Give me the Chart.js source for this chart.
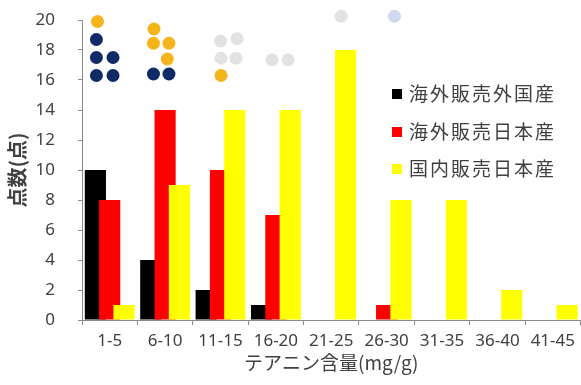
<!DOCTYPE html>
<html>
<head>
<meta charset="utf-8">
<script src="https://cdn.jsdelivr.net/npm/chart.js@4/dist/chart.umd.min.js"></script>
<style>
  body { margin: 0; background: #fff; }
  #chart { display: block; }
</style>
</head>
<body>
<canvas id="chart" width="581" height="385"></canvas>
<script>
// テアニン含量の分布
const categories = ['1-5', '6-10', '11-15', '16-20', '21-25', '26-30', '31-35', '36-40', '41-45'];
const overseasForeign = [10, 4, 2, 1, 0, 0, 0, 0, 0];
const overseasJapan = [8, 14, 10, 7, 0, 1, 0, 0, 0];
const domesticJapan = [1, 9, 14, 14, 18, 8, 8, 2, 1];
const seriesNames = ['海外販売外国産', '海外販売日本産', '国内販売日本産'];

// markers above the bars: category index, shift within the category, height
const navyDots = [
    { cat: 0, dx: -0.24, y: 16.3 }, { cat: 0, dx: 0.06, y: 16.3 },
    { cat: 0, dx: -0.24, y: 17.5 }, { cat: 0, dx: 0.06, y: 17.5 },
    { cat: 0, dx: -0.24, y: 18.7 },
    { cat: 1, dx: -0.21, y: 16.4 }, { cat: 1, dx: 0.07, y: 16.4 }
];
const orangeDots = [
    { cat: 0, dx: -0.22, y: 19.9 },
    { cat: 1, dx: 0.04, y: 17.4 },
    { cat: 1, dx: -0.21, y: 18.45 }, { cat: 1, dx: 0.07, y: 18.45 },
    { cat: 1, dx: -0.2, y: 19.4 },
    { cat: 2, dx: 0.01, y: 16.3 }
];
const grayDots = [
    { cat: 2, dx: 0.01, y: 17.45 }, { cat: 2, dx: 0.28, y: 17.45 },
    { cat: 2, dx: 0.0, y: 18.6 }, { cat: 2, dx: 0.3, y: 18.75 },
    { cat: 3, dx: -0.07, y: 17.35 }, { cat: 3, dx: 0.22, y: 17.35 },
    { cat: 4, dx: 0.18, y: 20.25 }
];
const blueDots = [
    { cat: 5, dx: 0.14, y: 20.25 }
];

const dotGroups = [
    { list: navyDots, color: '#0f2a66' },
    { list: orangeDots, color: '#f5b41c' },
    { list: grayDots, color: '#e2e2e2' },
    { list: blueDots, color: '#d0d8ee' }
];

const tickColor = '#404040';
const axisColor = '#8a8a8a';

// bars in index order (later bar overlaps the earlier one), then the dots
const drawInOrder = {
    id: 'drawInOrder',
    beforeDatasetsDraw(chart) {
        chart.data.datasets.forEach((ds, i) => {
            const meta = chart.getDatasetMeta(i);
            if (!meta.hidden) meta.controller.draw();
        });

        const { ctx, scales: { x, y } } = chart;
        ctx.save();
        dotGroups.forEach(g => {
            ctx.fillStyle = g.color;
            g.list.forEach(d => {
                ctx.beginPath();
                ctx.arc(x.getPixelForValue(d.cat + d.dx), y.getPixelForValue(d.y), 6.5, 0, Math.PI * 2);
                ctx.fill();
            });
        });
        ctx.restore();
        return false;
    }
};

// legend inside the plot area
const innerLegend = {
    id: 'innerLegend',
    afterDraw(chart) {
        const ctx = chart.ctx;
        ctx.save();
        ctx.font = '19px "Noto Sans CJK JP"';
        ctx.letterSpacing = '2px';
        ctx.textBaseline = 'middle';
        const rows = [94, 132, 169];
        chart.data.datasets.forEach((ds, i) => {
            ctx.fillStyle = ds.backgroundColor;
            ctx.fillRect(392, rows[i] - 5, 10, 10);
            ctx.fillStyle = tickColor;
            ctx.fillText(ds.label, 409, rows[i]);
        });
        ctx.restore();
    }
};

new Chart(document.getElementById('chart'), {
    type: 'bar',
    data: {
        labels: categories,
        datasets: [
            { label: seriesNames[0], data: overseasForeign, backgroundColor: '#000000' },
            { label: seriesNames[1], data: overseasJapan, backgroundColor: '#ff0000' },
            { label: seriesNames[2], data: domesticJapan, backgroundColor: '#ffff00' }
        ]
    },
    options: {
        responsive: false,
        animation: false,
        categoryPercentage: 0.775,
        barPercentage: 1.48,
        borderWidth: 0,
        layout: { padding: { top: 20, right: 0, bottom: 0, left: 0 } },
        plugins: {
            legend: { display: false },
            tooltip: { enabled: false }
        },
        scales: {
            x: {
                grid: { drawOnChartArea: false, drawTicks: true, tickLength: 5, color: axisColor },
                border: { color: axisColor },
                ticks: { color: tickColor, font: { family: 'Noto Sans', size: 17 }, padding: 6, maxRotation: 0, autoSkip: false },
                title: { display: true, text: 'テアニン含量(mg/g)', color: tickColor, font: { family: 'Noto Sans CJK JP', size: 19 }, padding: { top: 0, bottom: 11 } },
                afterFit(scale) { scale.height = 65; }
            },
            y: {
                min: 0,
                max: 20,
                ticks: { stepSize: 2, color: tickColor, font: { family: 'Noto Sans', size: 17 }, padding: 23 },
                grid: { drawOnChartArea: false, drawTicks: true, tickLength: 4, color: axisColor },
                border: { color: axisColor },
                title: { display: true, text: '点数(点)', color: tickColor, font: { family: 'Noto Sans CJK JP', size: 20, weight: 'bold' }, padding: { top: 5, bottom: 0 } },
                afterFit(scale) {
                    scale.width = 82;
                    // the wide label gap is horizontal only; keep it out of the top padding
                    scale.paddingTop = 10;
                    scale.paddingBottom = 10;
                }
            }
        }
    },
    plugins: [drawInOrder, innerLegend]
});
</script>
</body>
</html>
